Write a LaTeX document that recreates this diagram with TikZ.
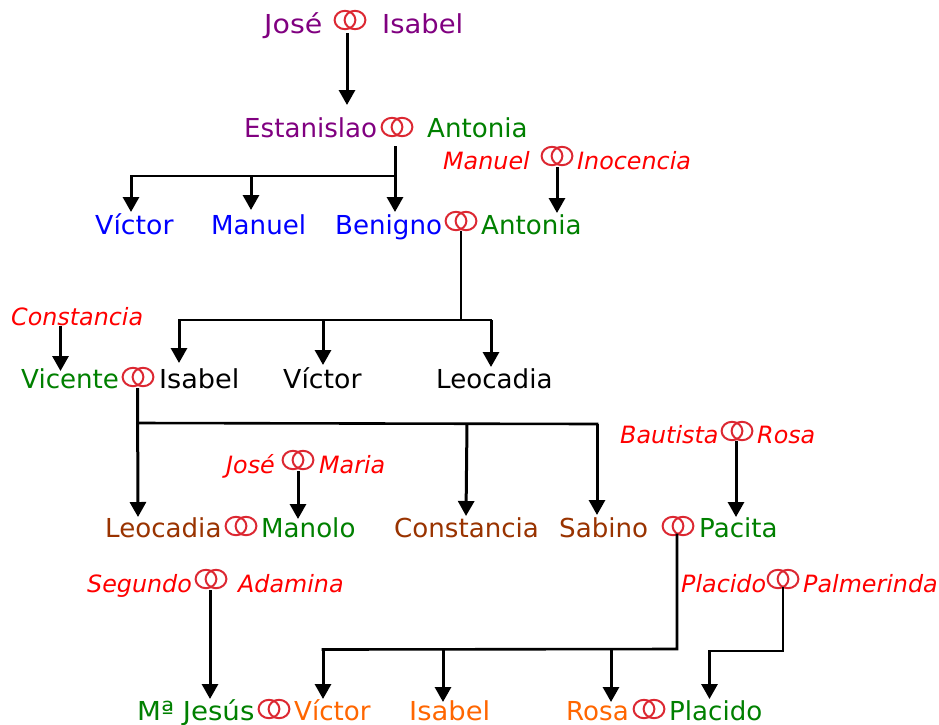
\documentclass[tikz,border=0pt]{standalone}
\usepackage{fontspec}
\setmainfont{DejaVu Sans}
\usetikzlibrary{arrows.meta}
\definecolor{cpurple}{HTML}{800080}
\definecolor{cgreen}{HTML}{008000}
\definecolor{cblue}{HTML}{0000FF}
\definecolor{cbrown}{HTML}{993300}
\definecolor{corange}{HTML}{FF6600}
\definecolor{cring}{HTML}{DC2832}
\tikzset{
  x=1pt,y=-1pt,
  person/.style={anchor=base west,inner sep=0pt,font=\fontsize{26.1}{26}\selectfont},
  inlaw/.style={anchor=base west,inner sep=0pt,text=red,font=\fontsize{23.8}{25}\selectfont\itshape},
  ringnode/.style={inner sep=0pt,minimum width=32pt,minimum height=20pt},
  ringline/.style={draw=cring,line width=2pt},
  arrow/.style={draw=black,line width=3pt,-{Triangle[width=16pt,length=15pt]}},
  plain/.style={draw=black,line width=2.6pt,line cap=rect},
}
\newcommand{\ringsat}[3]{%
  \node[ringnode] (#1) at (#2,#3) {};
  \draw[ringline] (#1.center) ++(-5,0) circle[x radius=10.4pt,y radius=9.2pt];
  \draw[ringline] (#1.center) ++(5,0) circle[x radius=10.4pt,y radius=9.2pt];
}
\newcommand{\wider}[2]{\scalebox{#1}[1]{#2}}
\begin{document}
\begin{tikzpicture}
\useasboundingbox (0,0) rectangle (939,724);
% generation 1
\node[person,text=cpurple] (jose) at (264,33) {\wider{1.09}{José}};
\node[person,text=cpurple] (isabelA) at (382,33) {\wider{1.05}{Isabel}};
\ringsat{rA}{350}{20}
\node[person,text=cpurple] (estanislao) at (244,137) {Estanislao};
\node[person,text=cgreen] (antoniaA) at (427,137) {Antonia};
\ringsat{rB}{397}{127}
\node[inlaw] (manuelI) at (443,169) {Manuel};
\node[inlaw] (inocencia) at (577,169) {Inocencia};
\ringsat{rC}{557}{156}
\node[person,text=cblue] (victorA) at (95,234) {\wider{1.025}{Víctor}};
\node[person,text=cblue] (manuelB) at (211,234) {Manuel};
\node[person,text=cblue] (benigno) at (335,234) {Benigno};
\node[person,text=cgreen] (antoniaB) at (481,234) {Antonia};
\ringsat{rD}{461}{221}
\node[inlaw] (constanciaI) at (11,325) {Constancia};
\node[person,text=cgreen] (vicente) at (21,388) {Vicente};
\node[person] (isabelB) at (159,388) {\wider{1.04}{Isabel}};
\node[person] (victorB) at (283,388) {\wider{1.025}{Víctor}};
\node[person] (leocadiaA) at (436,388) {Leocadia};
\ringsat{rE}{138}{377}
\node[inlaw] (bautista) at (620,443) {Bautista};
\node[inlaw] (rosaI) at (757,443) {Rosa};
\ringsat{rF}{737}{431}
\node[inlaw] (joseI) at (226,473) {José};
\node[inlaw] (maria) at (319,473) {Maria};
\ringsat{rG}{298}{460}
\node[person,text=cbrown] (leocadiaB) at (105,537) {Leocadia};
\node[person,text=cgreen] (manolo) at (261,537) {Manolo};
\ringsat{rH}{241}{526}
\node[person,text=cbrown] (constancia) at (394,537) {Constancia};
\node[person,text=cbrown] (sabino) at (559,537) {Sabino};
\node[person,text=cgreen] (pacita) at (699,537) {Pacita};
\ringsat{rI}{678}{526}
\node[inlaw] (segundo) at (87,592) {Segundo};
\node[inlaw] (adamina) at (238,592) {Adamina};
\ringsat{rJ}{211}{579}
\node[inlaw] (placidoI) at (681,592) {Placido};
\node[inlaw] (palmerinda) at (803,592) {Palmerinda};
\ringsat{rK}{783}{579}
\node[person,text=cgreen] (mjesus) at (137,720) {\wider{1.06}{Mª Jesús}};
\node[person,text=corange] (victorC) at (294,720) {Víctor};
\ringsat{rL}{274}{709}
\node[person,text=corange] (isabelC) at (409,720) {\wider{1.05}{Isabel}};
\node[person,text=corange] (rosa) at (566,720) {Rosa};
\node[person,text=cgreen] (placido) at (669,720) {Placido};
\ringsat{rM}{649}{709}
% connector ends
\coordinate (a1s) at (347,33); \coordinate (a1e) at (347,105);
\coordinate (b0) at (395,146); \coordinate (be) at (395,212); \coordinate (bj) at (395,176);
\coordinate (bl) at (131,176); \coordinate (ble) at (131,212); \coordinate (bm) at (251,176); \coordinate (bme) at (251,210);
\coordinate (cs) at (557,167); \coordinate (ce) at (557,213);
\coordinate (ds) at (461,232); \coordinate (dj) at (461,320);
\coordinate (dl) at (179,320); \coordinate (dle) at (179,363);
\coordinate (dm) at (323,320); \coordinate (dme) at (323,365);
\coordinate (dr) at (491,320); \coordinate (dre) at (491,367);
\coordinate (fs) at (60.5,326); \coordinate (fe) at (60.5,371);
\coordinate (es) at (137.5,388); \coordinate (ej) at (137.5,423); \coordinate (ee) at (138,517);
\coordinate (em) at (467,424); \coordinate (eme) at (466,516);
\coordinate (er) at (597,424); \coordinate (ere) at (597,515);
\coordinate (gs) at (298,471); \coordinate (ge) at (298,519);
\coordinate (hs) at (736,441); \coordinate (he) at (736,517);
\coordinate (js) at (210,590); \coordinate (je) at (210,699);
\coordinate (is) at (677,535); \coordinate (ic) at (677,649);
\coordinate (il) at (323,649.5); \coordinate (ile) at (323,699);
\coordinate (im) at (443,649.5); \coordinate (ime) at (443,702);
\coordinate (ir) at (611,649); \coordinate (ire) at (611,702);
\coordinate (ks) at (783,588); \coordinate (kc) at (783,651);
\coordinate (kl) at (709.5,651); \coordinate (kle) at (709.5,699);
% connectors
\draw[arrow] (a1s) -- (a1e);
\draw[arrow] (b0) -- (be);
\draw[plain] (bj) -- (bl);
\draw[arrow] (bl) -- (ble);
\draw[arrow] (bm) -- (bme);
\draw[arrow] (cs) -- (ce);
\draw[plain] (ds) -- (dj);
\draw[plain] (dr) -- (dl);
\draw[arrow] (dl) -- (dle);
\draw[arrow] (dm) -- (dme);
\draw[arrow] (dr) -- (dre);
\draw[arrow] (fs) -- (fe);
\draw[arrow] (es) -- (ee);
\draw[plain] (ej) -- (er);
\draw[arrow] (er) -- (ere);
\draw[arrow] (em) -- (eme);
\draw[arrow] (gs) -- (ge);
\draw[arrow] (hs) -- (he);
\draw[arrow] (js) -- (je);
\draw[plain] (is) -- (ic) -- (il);
\draw[arrow] (il) -- (ile);
\draw[arrow] (im) -- (ime);
\draw[arrow] (ir) -- (ire);
\draw[plain] (ks) -- (kc) -- (kl);
\draw[arrow] (kl) -- (kle);
\end{tikzpicture}
\end{document}
